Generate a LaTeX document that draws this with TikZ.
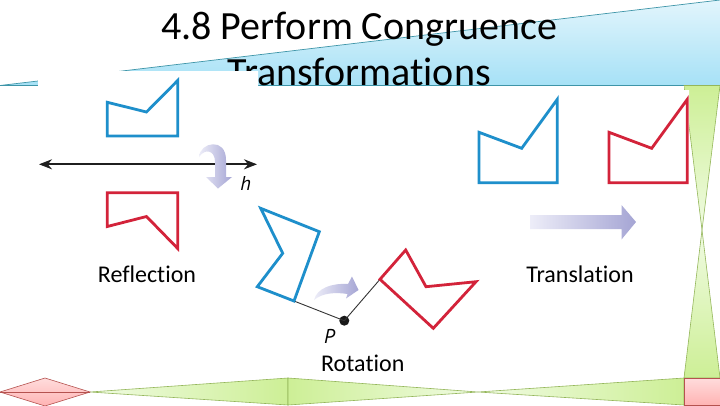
\documentclass[tikz,border=0pt]{standalone}
\usepackage{fontspec}
\setmainfont{Carlito}[RawFeature={-liga;-clig;-calt;-dlig;-rlig}]
\newfontfamily\itfont{PT Sans}
\usetikzlibrary{arrows.meta}
\definecolor{wedgetop}{HTML}{E2F5FC}
\definecolor{wedgebot}{HTML}{A6E1F6}
\definecolor{wedgeline}{HTML}{3E95A8}
\definecolor{shpblue}{HTML}{1E8FCB}
\definecolor{shpred}{HTML}{D3233A}
\definecolor{arrlight}{HTML}{EDEDF8}
\definecolor{arrdark}{HTML}{A5A5D4}
\definecolor{grnlight}{HTML}{F0FBE2}
\definecolor{grndark}{HTML}{CDEF96}
\definecolor{grnline}{HTML}{94B65A}
\definecolor{pnklight}{HTML}{FFDCDC}
\definecolor{pnkdark}{HTML}{FFB3B3}
\definecolor{pnkline}{HTML}{B5524F}
\begin{document}
\begin{tikzpicture}[x=1pt,y=-1pt,
  figblue/.style={draw=shpblue,line width=2.8pt,line join=miter},
  figred/.style={draw=shpred,line width=2.8pt,line join=miter},
  turnarrow/.style={left color=arrlight,right color=arrdark,draw=none},
  band/.style={draw=grnline,line width=0.6pt},
  pinkpiece/.style={draw=pnkline,line width=0.6pt,top color=pnklight,bottom color=pnkdark},
  caption/.style={font=\fontsize{24}{28}\selectfont,anchor=base,inner sep=0pt},
  titletext/.style={font=\fontsize{40}{48}\selectfont,anchor=base,inner sep=0pt},
  varlabel/.style={font=\itfont\itshape\fontsize{20}{24}\selectfont,inner sep=0pt}
]
\useasboundingbox (0,0) rectangle (720,405);
\fill[white] (0,0) rectangle (720,405);
% blue wedge
\path[top color=wedgetop,bottom color=wedgebot] (0,85.5) -- (720,0) -- (720,85.5) -- cycle;
\draw[wedgeline,line width=0.7pt] (0,85.5) -- (720,0);
\draw[wedgeline,line width=0.7pt] (0,85.5) -- (720,85.5);
\node[titletext] (title1) at (359,39.5) {4.8 Perform Congruence};
\node[titletext] (title2) at (359,85) {Transforma\kern0pt tions};
% green and pink decorations
\path[band,top color=grndark,bottom color=grnlight] (684,85.5) -- (720,85.5) -- (702,230) -- cycle;
\path[band,top color=grnlight,bottom color=grndark] (702,230) -- (720,378) -- (684,378) -- cycle;
\path[band,left color=grnlight,right color=grndark] (90,392) -- (288,378) -- (288,405) -- cycle;
\path[band,left color=grndark,right color=grnlight] (288,378) -- (478,392) -- (288,405) -- cycle;
\path[band,left color=grnlight,right color=grndark] (478,392) -- (684,378) -- (684,405) -- cycle;
\path[pinkpiece] (684,378) rectangle (720,405);
\path[pinkpiece] (0,392) -- (45,378) -- (90,392) -- (45,406) -- cycle;
\draw[pnkline,line width=0.6pt] (0,392) -- (90,392);
% picture background
\fill[white] (38,71) -- (258,71) -- (258,86) -- (684,86) -- (684,90) -- (689,90) -- (689,200) -- (680,200) -- (680,376) -- (38,376) -- cycle;
% reflection
\draw[figblue] (107.3,102.3) -- (146.5,112) -- (177.7,80.5) -- (177.7,136) -- (107.3,136) -- cycle;
\draw[figred] (107.3,226.5) -- (146.5,216.5) -- (177.7,248.5) -- (177.7,192.7) -- (107.3,192.7) -- cycle;
\coordinate (hL) at (39,164.3);
\coordinate (hR) at (257,164.3);
\draw[line width=2pt,black!88,{Stealth[length=13pt,width=10pt]}-{Stealth[length=13pt,width=10pt]}] (hL) -- (hR);
\path[turnarrow] (199,157) .. controls (200,142) and (226,137) .. (226,160) -- (226,177) -- (232,177) -- (218,188.5) -- (206,177) -- (215,177) -- (215,162) .. controls (215,150) and (205,148) .. (199,157) -- cycle;
\node[varlabel] (hlab) at (245.7,183) {h};
\node[caption] (refl) at (147,282.7) {Reflec\kern0pt tion};
% translation
\draw[figblue] (479,132.3) -- (521.7,148.3) -- (557.3,99.3) -- (557.3,182.7) -- (479,182.7) -- cycle;
\draw[figred] (609,132.3) -- (651.7,148.3) -- (687.3,99.3) -- (687.3,182.7) -- (609,182.7) -- cycle;
\path[turnarrow] (530,215) -- (621.5,215) -- (621.5,205) -- (636,222) -- (621.5,239.5) -- (621.5,229) -- (530,229) -- cycle;
\node[caption] (trans) at (580,282.7) {Transla\kern0pt tion};
% rotation
\coordinate (bc) at (294,301);
\coordinate (rc) at (380,279.3);
\node[circle,fill=black!90,minimum size=10pt,inner sep=0pt] (P) at (344.3,320.7) {};
\draw[line width=0.9pt,black!80] (bc) -- (P.center) -- (rc);
\draw[figblue] (260.7,208.3) -- (319.3,231.7) -- (294,301) -- (257.3,286.7) -- (282.7,253.3) -- cycle;
\draw[figred] (380,279.3) -- (405.7,250) -- (426,286.7) -- (476,281.7) -- (433.3,328.3) -- cycle;
\path[turnarrow] (314,300) .. controls (317,288) and (332,283) .. (348,284) -- (352,276.5) -- (358.5,290) -- (346,298.5) -- (347.5,294) .. controls (335,292) and (322,293) .. (314,300) -- cycle;
\node[varlabel] (plab) at (329.5,336.5) {P};
\node[caption] (rot) at (362.8,371) {Rota\kern0pt tion};
\end{tikzpicture}
\end{document}
